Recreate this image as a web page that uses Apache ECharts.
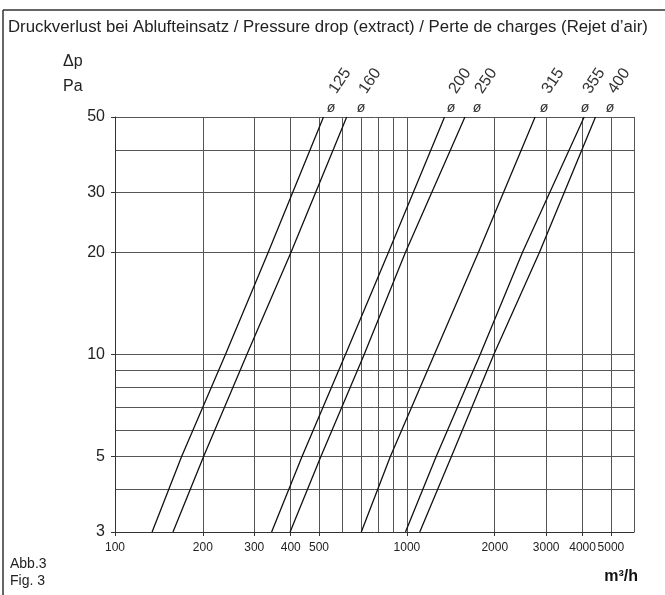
<!DOCTYPE html>
<html>
<head>
<meta charset="utf-8">
<script src="https://cdn.jsdelivr.net/npm/echarts@6/dist/echarts.min.js"></script>
<style>
html, body { margin: 0; padding: 0; background: #fff; }
#chart { width: 665px; height: 595px; }
</style>
</head>
<body>
<div id="chart"></div>
<script>
// Druckverlust Ablufteinsatz
var pressure = [3, 5, 10, 20, 50];           // Pa
var flow125 = [134, 169, 239, 335, 518];     // m3/h
var flow160 = [158, 201, 283, 401, 622];
var flow200 = [344, 437, 616, 865, 1346];
var flow250 = [398, 507, 714, 989, 1581];
var flow315 = [698, 877, 1242, 1759, 2750];
var flow355 = [989, 1259, 1783, 2490, 4050];
var flow400 = [1107, 1420, 1985, 2847, 4428];
var diameters = ['125', '160', '200', '250', '315', '355', '400'];

var xTickLabels = [100, 200, 300, 400, 500, 1000, 2000, 3000, 4000, 5000];
var xGridValues = [200, 300, 400, 500, 600, 700, 800, 900, 1000, 2000, 3000, 4000, 5000, 6000];
var yTickLabels = [3, 5, 10, 20, 30, 50];
var yGridValues = [4, 5, 6, 7, 8, 9, 10, 20, 30, 40, 50];

// pixel x of the "ø" marks above the plot
var diaLabelX = [331, 361, 451, 477, 544, 585, 610];

var chart = echarts.init(document.getElementById('chart'), null, { renderer: 'canvas' });

var flows = [flow125, flow160, flow200, flow250, flow315, flow355, flow400];
var series = flows.map(function (f, i) {
  return {
    name: 'ø ' + diameters[i],
    type: 'line',
    xAxisIndex: 0,
    yAxisIndex: 0,
    data: f.map(function (q, k) { return [q, pressure[k]]; }),
    symbol: 'none',
    silent: true,
    lineStyle: { color: '#111', width: 1.3 },
    z: 5
  };
});

var font = "'Liberation Sans', Arial, sans-serif";
var plain = function (v) { return String(Math.round(v)); };

var graphics = [
  { type: 'line', shape: { x1: 3, y1: 10, x2: 665, y2: 10 }, style: { stroke: '#333', lineWidth: 1.5 } },
  { type: 'line', shape: { x1: 3, y1: 10, x2: 3, y2: 595 }, style: { stroke: '#333', lineWidth: 1.5 } },
  { type: 'text', x: 8, y: 27, style: { text: 'Druckverlust bei Ablufteinsatz / Pressure drop (extract) / Perte de charges (Rejet d’air)',
      font: "16.8px " + font, fill: '#222', verticalAlign: 'middle' } },
  { type: 'text', x: 63, y: 62, style: { text: 'Δp', font: "16px " + font, fill: '#222', verticalAlign: 'middle' } },
  { type: 'text', x: 63, y: 87, style: { text: 'Pa', font: "16px " + font, fill: '#222', verticalAlign: 'middle' } },
  { type: 'text', x: 10, y: 564, style: { text: 'Abb.3', font: "14px " + font, fill: '#222', verticalAlign: 'middle' } },
  { type: 'text', x: 10, y: 581, style: { text: 'Fig. 3', font: "14px " + font, fill: '#222', verticalAlign: 'middle' } },
  { type: 'text', x: 638, y: 577, style: { text: 'm³/h', font: "bold 16px " + font, fill: '#111', align: 'right', verticalAlign: 'middle' } }
];
diameters.forEach(function (d, i) {
  graphics.push({ type: 'text', x: diaLabelX[i], y: 108,
    style: { text: 'ø', font: "italic 14px " + font, fill: '#333', align: 'center', verticalAlign: 'middle' } });
  graphics.push({ type: 'text', x: diaLabelX[i] + 9, y: 81, rotation: 56 * Math.PI / 180,
    style: { text: d, font: "16px " + font, fill: '#333', align: 'center', verticalAlign: 'middle' } });
});

var option = {
  animation: false,
  backgroundColor: '#fff',
  grid: { left: 115, right: 31, top: 117, bottom: 63, outerBoundsMode: 'none' },
  xAxis: [
    {
      type: 'log', logBase: 10, min: 100, max: 6000, position: 'bottom',
      axisLine: { show: true, lineStyle: { color: '#333', width: 1 } },
      axisTick: { show: true, length: 4, customValues: xTickLabels, lineStyle: { color: '#333' } },
      axisLabel: { customValues: xTickLabels, formatter: plain, interval: 0, margin: 10, color: '#222', fontSize: 12,
        fontFamily: font, hideOverlap: false, showMinLabel: true, showMaxLabel: true },
      splitLine: { show: false }
    },
    {
      type: 'log', logBase: 10, min: 100, max: 6000, position: 'top',
      axisLine: { show: false },
      axisTick: { show: false, customValues: xGridValues },
      axisLabel: { show: false },
      splitLine: { show: true, lineStyle: { color: '#555', width: 1 } }
    }
  ],
  yAxis: [
    {
      type: 'log', logBase: 10, min: 3, max: 50, position: 'left',
      axisLine: { show: true, lineStyle: { color: '#333', width: 1 } },
      axisTick: { show: true, length: 4, customValues: yTickLabels, lineStyle: { color: '#333' } },
      axisLabel: { customValues: yTickLabels, formatter: plain, interval: 0, margin: 10, color: '#222', fontSize: 16,
        fontFamily: font, hideOverlap: false, showMinLabel: true, showMaxLabel: true },
      splitLine: { show: false }
    },
    {
      type: 'log', logBase: 10, min: 3, max: 50, position: 'right',
      axisLine: { show: false },
      axisTick: { show: false, customValues: yGridValues },
      axisLabel: { show: false },
      splitLine: { show: true, lineStyle: { color: '#555', width: 1 } }
    }
  ],
  series: series,
  graphic: graphics
};

chart.setOption(option);
</script>
</body>
</html>
